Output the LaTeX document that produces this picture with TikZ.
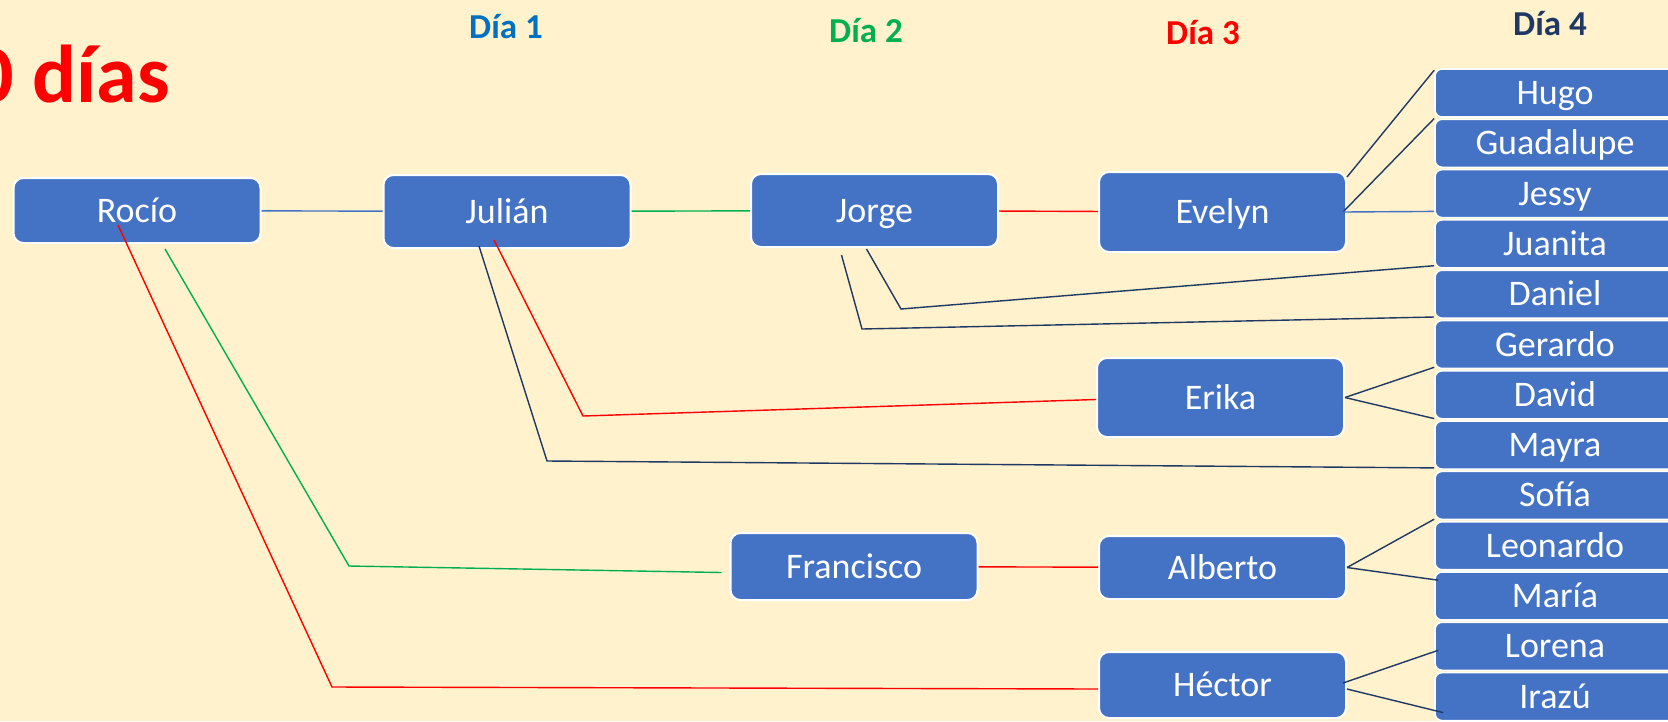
\documentclass[tikz,border=0pt]{standalone}
\usepackage{fontspec}
\setmainfont{Carlito}
\usepackage{tikz}
\usetikzlibrary{matrix}

\definecolor{fondo}{HTML}{FFF2CC}
\definecolor{cajaazul}{HTML}{4472C4}
\definecolor{diauno}{HTML}{0070C0}
\definecolor{diados}{HTML}{00B050}
\definecolor{diatres}{HTML}{FF0000}
\definecolor{marino}{HTML}{203864}

\begin{document}
\begin{tikzpicture}[x=1pt,y=-1pt,
	caja/.style={rectangle,rounded corners=10pt,fill=cajaazul,draw=white,line width=2pt,
		minimum width=247pt,inner sep=0pt,text=white,text height=23pt,text depth=0pt,
		font=\fontsize{36}{40}\selectfont},
	dia4/.style={caja,rounded corners=7pt,line width=1.6pt,minimum width=240pt,minimum height=48pt},
	dia/.style={font=\fontsize{35}{40}\selectfont\bfseries},
	azul/.style={draw=cajaazul,line width=1.4pt},
	verde/.style={draw=diados,line width=1.4pt},
	rojo/.style={draw=diatres,line width=1.4pt},
	marinol/.style={draw=marino,line width=1.4pt}]
	\useasboundingbox (0,0) rectangle (1668,721);
	\clip (0,0) rectangle (1668,721);
	\fill[fondo] (0,0) rectangle (1668,721);
	
	\node[font=\fontsize{82}{90}\selectfont\bfseries,text=diatres,anchor=base east,inner sep=0pt] (titulo) at (170,102) {0 días};
	
	\node[dia,text=diauno] (d1) at (506,27) {Día 1};
	\node[dia,text=diados] (d2) at (866,31) {Día 2};
	\node[dia,text=diatres] (d3) at (1203,33) {Día 3};
	\node[dia,text=marino] (d4t) at (1550,24) {Día 4};
	
	\node[caja,minimum height=65pt] (rocio) at (137,210.5) {Rocío};
	\node[caja,minimum height=73pt] (julian) at (507,211.5) {Julián};
	\node[caja,minimum height=73pt] (jorge) at (874.5,210.5) {Jorge};
	\node[caja,minimum height=80pt] (evelyn) at (1222.5,212) {Evelyn};
	\node[caja,minimum height=79pt] (erika) at (1220.5,397.5) {Erika};
	\node[caja,minimum height=67pt] (francisco) at (854,566.5) {Francisco};
	\node[caja,minimum height=63pt] (alberto) at (1222.5,567.5) {Alberto};
	\node[caja,minimum height=66pt] (hector) at (1222.5,685) {Héctor};
	
	\matrix (d4) [matrix of nodes,
	nodes={dia4},
	row sep=0.7pt,inner sep=0pt,anchor=north west
	%nodes=draw
	] at (1434,68)
	{
		Hugo \\
		Guadalupe \\
		Jessy \\
		Juanita \\
		Daniel \\
		Gerardo \\
		David \\
		Mayra \\
		Sofía \\
		Leonardo \\
		María \\
		Lorena \\
		Irazú \\
	};
	
	\coordinate (jj) at (901,309);
	\coordinate (jd) at (862,329);
	\coordinate (je) at (583,416);
	\coordinate (jm) at (547,461);
	\coordinate (rf) at (349,566);
	\coordinate (rh) at (332,687);
	
	\draw[azul] (rocio) -- (julian);
	\draw[verde] (julian) -- (jorge);
	\draw[rojo] (jorge) -- (evelyn);
	\draw[rojo] (francisco) -- (alberto);
	
	\draw[marinol] ([yshift=-6pt]evelyn.north east) -- ([yshift=-2pt]d4-1-1.north west);
	\draw[marinol] ([xshift=-4pt]evelyn.east) -- (d4-2-1.north west);
	\draw[azul] ([xshift=-4pt]evelyn.east) -- ([yshift=7pt]d4-3-1.south west);
	\draw[marinol] ([xshift=-8pt,yshift=-1pt]jorge.south) -- (jj) -- ([yshift=3pt]d4-4-1.south west);
	\draw[marinol] ([xshift=-33pt,yshift=-7pt]jorge.south) -- (jd) -- ([yshift=2pt]d4-5-1.south west);
	\draw[rojo] ([xshift=-13pt,yshift=9pt]julian.south) -- (je) -- ([yshift=-2pt]erika.west);
	\draw[marinol] ([xshift=-28pt,yshift=3pt]julian.south) -- (jm) -- ([yshift=2pt]d4-8-1.south west);
	\draw[verde] ([xshift=28pt,yshift=-5pt]rocio.south) -- (rf) -- ([xshift=-8pt,yshift=-6pt]francisco.west);
	\draw[rojo] ([xshift=-19pt,yshift=19pt]rocio.south) -- (rh) -- ([yshift=-4pt]hector.west);
	
	\draw[marinol] (erika.east) -- ([yshift=2pt]d4-6-1.south west);
	\draw[marinol] (erika.east) -- ([yshift=1pt]d4-7-1.south west);
	\draw[marinol] (alberto.east) -- ([yshift=1pt]d4-9-1.south west);
	\draw[marinol] (alberto.east) -- ([xshift=4pt,yshift=-9pt]d4-11-1.north west);
	\draw[marinol] ([xshift=-4pt,yshift=2pt]hector.east) -- ([xshift=4pt,yshift=-4pt]d4-12-1.west);
	\draw[marinol] ([yshift=-4pt]hector.east) -- ([xshift=9pt,yshift=-16pt]d4-13-1.west);
\end{tikzpicture}
\end{document}
